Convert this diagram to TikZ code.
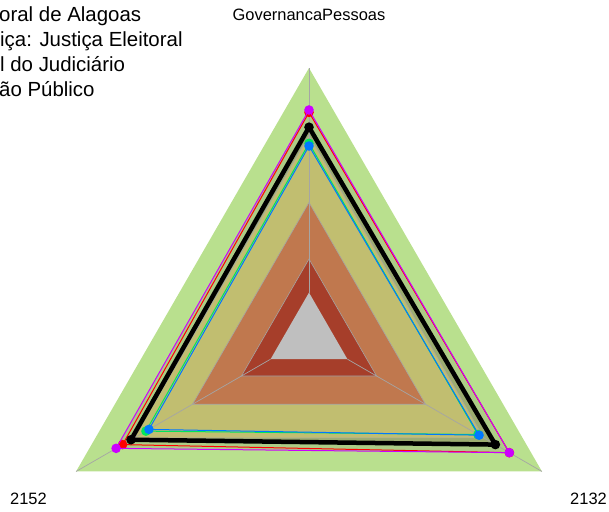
\documentclass[tikz,border=0pt]{standalone}
\usepackage{fontspec}
\setmainfont{Liberation Sans}
\usepackage{tikz}
\definecolor{zgreen}{RGB}{185,224,142}
\definecolor{zolive}{RGB}{193,190,112}
\definecolor{zorange}{RGB}{192,120,78}
\definecolor{zred}{RGB}{166,62,42}
\definecolor{zgray}{RGB}{191,191,191}
\definecolor{gridgray}{RGB}{165,165,165}
\definecolor{fillout}{RGB}{172,204,134}
\definecolor{fillin}{RGB}{156,172,112}
\definecolor{smagenta}{RGB}{204,0,255}
\definecolor{sred}{RGB}{255,0,0}
\definecolor{sgreen}{RGB}{0,230,90}
\definecolor{sblue}{RGB}{0,120,255}
\tikzset{
	zone/.style     = {draw=gridgray, line width=0.6bp},
	axis/.style     = {draw=gridgray, line width=0.7bp},
	series/.style   = {line width=1bp, line join=round},
	legend/.style   = {anchor=base west, inner sep=0pt,
		font=\fontsize{20.5}{24}\selectfont},
	varname/.style  = {anchor=base, inner sep=0pt,
		font=\fontsize{16.5}{20}\selectfont}
}
\newcommand{\rad}{269}

\begin{document}
\begin{tikzpicture}[x=1bp, y=1bp]
\useasboundingbox (0,0) rectangle (609,512);
\clip (0,0) rectangle (609,512);
\draw
node[legend] (l1) at (-1,490) {oral de Alagoas}
node[legend] (l2) at (0,465.3) {iça: Justiça Eleitoral}
node[legend] (l3) at (0,440.3) {l do Judiciário}
node[legend] (l4) at (-1,415.3) {ão Público}
node[varname] (a1) at (309,491) {GovernancaPessoas}
node[varname] (a2) at (28.5,7) {2152}
node[varname] (a3) at (588.5,7) {2132};

\begin{scope}[shift={(309,175)}]
\coordinate (v1) at (90:\rad);
\coordinate (v2) at (210:\rad);
\coordinate (v3) at (330:\rad);
\coordinate (i1) at (90:{.165*\rad});
\coordinate (i2) at (210:{.165*\rad});
\coordinate (i3) at (330:{.165*\rad});
% zones
\fill[zgreen] (v1) -- (v2) -- (v3) -- cycle;
\fill[fillout] (90:{.844*\rad}) -- (210:{.828*\rad}) -- (330:{.86*\rad}) -- cycle;
\fill[fillin] (90:{.78*\rad}) -- (210:{.764*\rad}) -- (330:{.80*\rad}) -- cycle;
\foreach \lev/\col in {0.75/zolive, 0.5/zorange, 0.29/zred}
	\filldraw[zone, fill=\col] (90:{\lev*\rad}) -- (210:{\lev*\rad}) -- (330:{\lev*\rad}) -- cycle;
\fill[zgray] (i1) -- (i2) -- (i3) -- cycle;
\foreach \n in {1,2,3}
	\draw[axis] (i\n) -- (v\n);
% series
\foreach \col/\pa/\pb/\pc/\w in {sred/.835/.80/.86/1, smagenta/.844/.828/.86/1,
	black/.78/.764/.80/4.5, sgreen/.72/.70/.725/1, sblue/.71/.687/.73/1} {
	\draw[series, \col, line width=\w bp] (90:{\pa*\rad}) -- (210:{\pb*\rad}) -- (330:{\pc*\rad}) -- cycle;
	\foreach \ang/\val in {90/\pa, 210/\pb, 330/\pc}
		\fill[\col] (\ang:{\val*\rad}) circle (4.8);
}
\end{scope}
\end{tikzpicture}
\end{document}
